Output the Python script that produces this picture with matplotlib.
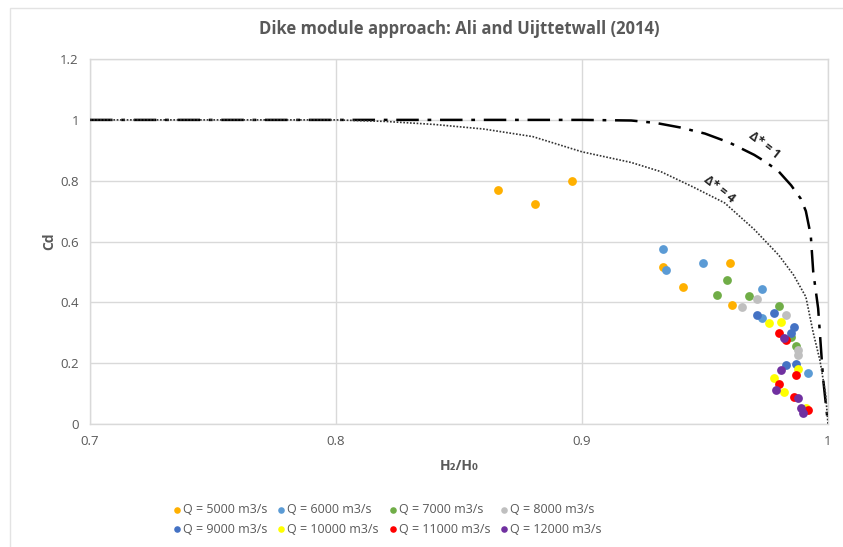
import matplotlib
matplotlib.use("Agg")
import matplotlib.pyplot as plt
from matplotlib.patches import Rectangle

plt.rcParams['font.family'] = ['Open Sans', 'DejaVu Sans']

# Measured points, one series per discharge
series_labels = ["Q = 5000 m3/s", "Q = 6000 m3/s", "Q = 7000 m3/s", "Q = 8000 m3/s",
                 "Q = 9000 m3/s", "Q = 10000 m3/s", "Q = 11000 m3/s", "Q = 12000 m3/s"]
series_colors = ["#FFB000", "#5B9BD5", "#70AD47", "#BFBFBF",
                 "#4472C4", "#FFFF00", "#FF0000", "#7030A0"]

q5000_x = [0.866, 0.881, 0.896, 0.933, 0.960, 0.941, 0.961]
q5000_y = [0.770, 0.725, 0.800, 0.515, 0.528, 0.452, 0.390]
q6000_x = [0.933, 0.934, 0.949, 0.973, 0.973, 0.992]
q6000_y = [0.577, 0.505, 0.528, 0.443, 0.348, 0.167]
q7000_x = [0.959, 0.955, 0.968, 0.980, 0.985, 0.987]
q7000_y = [0.472, 0.423, 0.420, 0.387, 0.285, 0.256]
q8000_x = [0.971, 0.965, 0.983, 0.988, 0.988]
q8000_y = [0.410, 0.384, 0.357, 0.243, 0.226]
q9000_x = [0.971, 0.978, 0.986, 0.985, 0.983, 0.987]
q9000_y = [0.357, 0.364, 0.320, 0.300, 0.193, 0.197]
q10000_x = [0.976, 0.981, 0.978, 0.982, 0.988, 0.991]
q10000_y = [0.331, 0.334, 0.151, 0.105, 0.180, 0.053]
q11000_x = [0.980, 0.983, 0.987, 0.980, 0.986, 0.992]
q11000_y = [0.298, 0.275, 0.160, 0.131, 0.089, 0.046]
q12000_x = [0.982, 0.981, 0.979, 0.988, 0.989, 0.990]
q12000_y = [0.282, 0.177, 0.111, 0.085, 0.052, 0.036]

series_x = [q5000_x, q6000_x, q7000_x, q8000_x, q9000_x, q10000_x, q11000_x, q12000_x]
series_y = [q5000_y, q6000_y, q7000_y, q8000_y, q9000_y, q10000_y, q11000_y, q12000_y]

# Theoretical curves
delta1_x = [0.70, 0.80, 0.90, 0.92, 0.93, 0.94, 0.95, 0.96, 0.97, 0.975, 0.98, 0.985,
            0.989, 0.991, 0.993, 0.994, 0.996, 0.998, 1.0]
delta1_y = [1.00, 1.00, 1.00, 0.998, 0.99, 0.975, 0.955, 0.925, 0.885, 0.86, 0.83, 0.785,
            0.74, 0.70, 0.62, 0.50, 0.38, 0.15, 0.0]
delta4_x = [0.70, 0.80, 0.82, 0.84, 0.86, 0.88, 0.90, 0.92, 0.932, 0.945, 0.958, 0.97,
            0.98, 0.986, 0.991, 0.994, 0.9967, 0.999, 1.0]
delta4_y = [1.00, 1.00, 0.995, 0.985, 0.97, 0.945, 0.895, 0.86, 0.83, 0.78, 0.727, 0.64,
            0.555, 0.49, 0.418, 0.30, 0.21, 0.10, 0.0]

x_ticks = [0.7, 0.8, 0.9, 1.0]
x_tick_labels = ["0.7", "0.8", "0.9", "1"]
y_ticks = [0, 0.2, 0.4, 0.6, 0.8, 1.0, 1.2]
y_tick_labels = ["0", "0.2", "0.4", "0.6", "0.8", "1", "1.2"]

text_gray = "#595959"
grid_gray = "#D9D9D9"

fig = plt.figure(figsize=(8.43, 5.47), dpi=100)
fig.patches.append(Rectangle((0.012, -0.01), 1.0, 0.995, transform=fig.transFigure,
                             fill=False, edgecolor="#E3E3E3", linewidth=1.0))
ax = fig.add_axes([0.1068, 0.2249, 0.8754, 0.6671])

ax.plot(delta1_x, delta1_y, color="black", linewidth=1.8,
        linestyle=(0, (9, 3.5, 1.5, 3.5)), zorder=3)
ax.plot(delta4_x, delta4_y, color="#333333", linewidth=1.2,
        linestyle=(0, (1, 1)), zorder=3)

handles = []
for xs, ys, c, lab in zip(series_x, series_y, series_colors, series_labels):
    handles.append(ax.scatter(xs, ys, s=40, color=c, label=lab, zorder=4, linewidths=0))

ax.text(0.974, 0.915, "Δ* = 1", rotation=-38, fontsize=9, fontweight="bold",
        ha="center", va="center", color="#222222", zorder=5)
ax.text(0.956, 0.772, "Δ* = 4", rotation=-38, fontsize=9, fontweight="bold",
        ha="center", va="center", color="#222222", zorder=5)

ax.set_xlim(0.7, 1.0)
ax.set_ylim(0, 1.2)
ax.set_xticks(x_ticks)
ax.set_xticklabels(x_tick_labels)
ax.set_yticks(y_ticks)
ax.set_yticklabels(y_tick_labels)
ax.tick_params(length=0, colors=text_gray, labelsize=9.5, pad=8)
ax.grid(True, color=grid_gray, linewidth=1.0)
ax.set_axisbelow(True)
for sp in ax.spines.values():
    sp.set_color(grid_gray)
    sp.set_linewidth(1.0)

ax.set_xlabel("H₂/H₀", color=text_gray, fontsize=10, fontweight="bold", labelpad=8)
ax.set_ylabel("Cd", color=text_gray, fontsize=10, fontweight="bold", labelpad=3)
ax.set_title("Dike module approach: Ali and Uijttetwall (2014)", color=text_gray,
             fontsize=12, fontweight="bold", pad=18)

# legend laid out row by row: matplotlib fills columns first, so interleave
order = [0, 4, 1, 5, 2, 6, 3, 7]
leg = fig.legend([handles[i] for i in order], [series_labels[i] for i in order],
                 loc="lower center", bbox_to_anchor=(0.458, 0.0), ncol=4, frameon=False,
                 fontsize=9, handletextpad=0.0, columnspacing=0.6, markerscale=0.75,
                 labelspacing=0.55, handlelength=1.0)
for t in leg.get_texts():
    t.set_color(text_gray)

fig.savefig("out.png", dpi=100)
